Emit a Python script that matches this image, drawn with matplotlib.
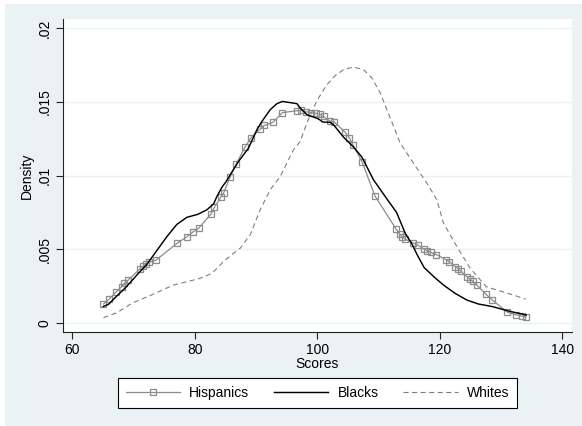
import matplotlib
matplotlib.use("Agg")
import matplotlib.pyplot as plt
from matplotlib.patches import Rectangle

plt.rcParams['font.family'] = ['Liberation Sans', 'DejaVu Sans']

# kernel density estimates of test scores by group
hisp_x = [65.11, 66.04, 67.13, 68.11, 68.54, 69.09, 71.10, 71.64, 72.08, 72.57,
          73.67, 77.14, 78.69, 79.71, 80.65, 82.64, 83.22, 84.28, 84.73, 85.80,
          86.73, 88.24, 89.22, 90.74, 91.35, 92.77, 94.33, 96.69, 97.39, 98.12,
          99.02, 99.79, 100.41, 101.03, 102.17, 102.82, 104.57, 105.22, 105.83, 107.35,
          109.42, 112.90, 113.47, 113.91, 114.40, 115.56, 116.46, 117.44, 117.99, 118.56,
          119.46, 121.06, 121.60, 122.50, 123.02, 123.48, 124.46, 124.90, 125.39, 126.01,
          127.54, 128.62, 131.05, 132.49, 133.44, 134.07]
hisp_y = [0.00127, 0.00161, 0.00207, 0.00245, 0.00268, 0.00288, 0.00367, 0.00386, 0.00399, 0.00411,
          0.00425, 0.00540, 0.00583, 0.00616, 0.00642, 0.00737, 0.00784, 0.00853, 0.00882, 0.00991,
          0.01075, 0.01195, 0.01257, 0.01318, 0.01340, 0.01361, 0.01427, 0.01440, 0.01442, 0.01433,
          0.01427, 0.01422, 0.01416, 0.01401, 0.01367, 0.01363, 0.01293, 0.01257, 0.01209, 0.01091,
          0.00862, 0.00635, 0.00601, 0.00581, 0.00566, 0.00544, 0.00527, 0.00499, 0.00490, 0.00477,
          0.00462, 0.00428, 0.00414, 0.00381, 0.00367, 0.00348, 0.00313, 0.00296, 0.00282, 0.00259,
          0.00193, 0.00153, 0.00071, 0.00054, 0.00044, 0.00041]

black_x = [65.06, 65.93, 67.02, 68.73, 70.56, 72.20, 73.83, 75.46, 77.09, 78.73,
           80.49, 81.99, 83.10, 83.62, 84.44, 85.14, 85.80, 87.15, 88.78, 90.16,
           90.97, 92.33, 93.42, 94.33, 96.69, 97.22, 98.32, 99.40, 100.21, 100.93,
           102.12, 102.66, 104.29, 105.93, 107.30, 109.19, 111.48, 112.95, 114.37, 115.46,
           116.33, 117.47, 119.27, 120.62, 122.53, 124.44, 126.33, 128.57, 131.18, 134.12]
black_y = [0.00110, 0.00125, 0.00171, 0.00239, 0.00324, 0.00397, 0.00491, 0.00585, 0.00668, 0.00716,
           0.00736, 0.00767, 0.00808, 0.00857, 0.00920, 0.00959, 0.01005, 0.01095, 0.01186, 0.01311,
           0.01367, 0.01447, 0.01488, 0.01503, 0.01488, 0.01459, 0.01413, 0.01397, 0.01384, 0.01363,
           0.01361, 0.01345, 0.01261, 0.01193, 0.01125, 0.00971, 0.00835, 0.00750, 0.00608, 0.00535,
           0.00461, 0.00374, 0.00304, 0.00256, 0.00199, 0.00154, 0.00127, 0.00110, 0.00080, 0.00052]

white_x = [65.11, 67.30, 69.75, 72.73, 76.54, 79.54, 80.90, 82.81, 84.70, 86.33,
           87.43, 89.06, 90.69, 92.33, 93.96, 96.13, 97.22, 98.32, 99.95, 101.58,
           102.94, 104.29, 105.93, 107.56, 108.93, 110.29, 111.92, 113.55, 115.72, 117.91,
           119.54, 120.62, 122.81, 124.98, 127.59, 129.34, 132.05, 134.07]
white_y = [0.00034, 0.00068, 0.00132, 0.00185, 0.00256, 0.00287, 0.00302, 0.00335, 0.00415, 0.00472,
           0.00506, 0.00597, 0.00767, 0.00903, 0.00993, 0.01175, 0.01231, 0.01357, 0.01508, 0.01617,
           0.01678, 0.01719, 0.01737, 0.01719, 0.01663, 0.01561, 0.01391, 0.01220, 0.01084, 0.00948,
           0.00835, 0.00676, 0.00517, 0.00370, 0.00245, 0.00222, 0.00188, 0.00159]

xticks = [60, 80, 100, 120, 140]
yticks = [0, 0.005, 0.01, 0.015, 0.02]
ytick_labels = ['0', '.005', '.01', '.015', '.02']

bg = '#EAF2F3'
W, H = 582, 426
fig = plt.figure(figsize=(W / 100, H / 100), dpi=100, facecolor='white')
fig.patches.append(Rectangle((5 / W, 0), 1 - 5 / W, 1 - 4 / H, transform=fig.transFigure,
                             facecolor=bg, edgecolor='none', zorder=-10))

ax = fig.add_axes([63 / W, 1 - 332 / H, (572 - 63) / W, (332 - 19) / H])
ax.set_facecolor('white')

ax.plot(hisp_x, hisp_y, color='#8c8c8c', lw=0.9, marker='s', ms=4.0, mfc='none',
        mec='#8c8c8c', mew=0.9, label='Hispanics')
ax.plot(black_x, black_y, color='black', lw=1.05, label='Blacks')
ax.plot(white_x, white_y, color='#7f7f7f', lw=0.8, linestyle=(0, (4.5, 3.2)), label='Whites')

ax.set_xlim(58.5, 141.6)
ax.set_ylim(-0.00063, 0.02063)
ax.set_xticks(xticks)
ax.set_yticks(yticks)
ax.set_yticklabels(ytick_labels, rotation=90, va='center')
ax.tick_params(axis='both', labelsize=10, length=5, width=0.8, pad=3, color='#222222')
ax.grid(axis='y', color=bg, lw=1)
ax.set_axisbelow(True)

for s in ['top', 'right']:
    ax.spines[s].set_visible(False)
for s in ['left', 'bottom']:
    ax.spines[s].set_color('#222222')
    ax.spines[s].set_linewidth(0.8)

ax.set_xlabel('Scores', fontsize=10, labelpad=0)
ax.set_ylabel('Density', fontsize=10, labelpad=3)

leg = fig.legend(loc='center', bbox_to_anchor=(317.5 / W, 1 - 393 / H), ncol=3,
                 fontsize=10, frameon=True, fancybox=False, handlelength=3.9,
                 handletextpad=0.65, columnspacing=1.8, borderpad=0.55)
leg.get_frame().set_edgecolor('black')
leg.get_frame().set_linewidth(0.8)
leg.get_frame().set_facecolor('white')
leg.get_frame().set_alpha(1)

fig.savefig('out.png', dpi=100, facecolor=fig.get_facecolor())
